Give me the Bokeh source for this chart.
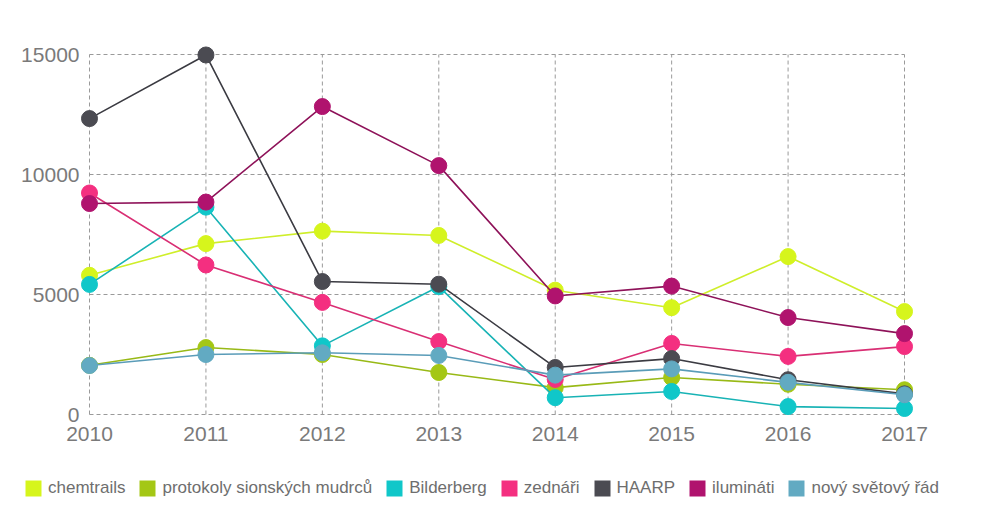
from bokeh.plotting import figure
from bokeh.models import Legend, LegendItem, Range1d
from bokeh.core.properties import value
from bokeh.embed import file_html
from bokeh.resources import INLINE

years = [2010, 2011, 2012, 2013, 2014, 2015, 2016, 2017]
year_labels = ["2010", "2011", "2012", "2013", "2014", "2015", "2016", "2017"]
y_ticks = [0, 5000, 10000, 15000]
y_labels = ["0", "5000", "10000", "15000"]
names = ["chemtrails", "protokoly sionských mudrců", "Bilderberg", "zednáři",
         "HAARP", "ilumináti", "nový světový řád"]
chemtrails = [5800, 7120, 7640, 7460, 5180, 4450, 6580, 4290]
protokoly = [2050, 2790, 2500, 1750, 1120, 1540, 1260, 1030]
bilderberg = [5420, 8640, 2860, 5330, 700, 960, 330, 250]
zednari = [9230, 6230, 4670, 3040, 1460, 2960, 2420, 2830]
haarp = [12330, 14980, 5540, 5430, 1960, 2330, 1450, 860]
iluminati = [8790, 8850, 12830, 10370, 4940, 5350, 4040, 3370]
nwo = [2040, 2500, 2570, 2460, 1640, 1900, 1340, 820]
series = [chemtrails, protokoly, bilderberg, zednari, haarp, iluminati, nwo]
fill_colors = ["#d6f51c", "#a4c715", "#10c7c9", "#f42f80", "#4b4b52", "#b0136e", "#62aac2"]
line_colors = ["#cfee2a", "#98b916", "#18b3b5", "#d92f74", "#3b3b42", "#8e1259", "#5a9cb8"]

FW, FH = 970, 520
px_per_year = 116.43
px_per_unit = 0.024
x0 = years[0] - 89 / px_per_year
y1 = y_ticks[-1] + 54 / px_per_unit
p = figure(frame_width=FW, frame_height=FH, min_border=0,
           x_range=Range1d(x0, x0 + FW / px_per_year),
           y_range=Range1d(y1 - FH / px_per_unit, y1),
           x_axis_location=None, y_axis_location=None,
           output_backend="svg", toolbar_location=None)
p.outline_line_color = None
p.background_fill_color = "white"
p.border_fill_color = "white"
for g in p.grid:
    g.visible = False

grid_color = "#9a9a9a"
# vertical grid lines at each year, spanning the value ticks
p.segment(x0=years, x1=years, y0=[y_ticks[0]] * len(years), y1=[y_ticks[-1]] * len(years),
          line_color=grid_color, line_dash="4 3", line_width=1)
# horizontal grid lines at each value tick, spanning the years
p.segment(x0=[years[0]] * len(y_ticks), x1=[years[-1]] * len(y_ticks), y0=y_ticks, y1=y_ticks,
          line_color=grid_color, line_dash="4 3", line_width=1)

# tick labels
p.text(x=[years[0]] * len(y_ticks), y=y_ticks, text=y_labels, text_align="right",
       text_baseline="middle", x_offset=-10, text_font=value("Liberation Sans"),
       text_font_size=value("21px"), text_color="#7a7a7a")
p.text(x=years, y=[y_ticks[0]] * len(years), text=year_labels, text_align="center",
       text_baseline="top", y_offset=12, text_font=value("Liberation Sans"),
       text_font_size=value("21px"), text_color="#7a7a7a")

items = []
for name, vals, fc, lc in zip(names, series, fill_colors, line_colors):
    p.line(years, vals, line_color=lc, line_width=1.6)
    p.scatter(years, vals, size=16, fill_color=fc, line_color=fc, marker="circle")
    # zero-size swatch renderer, only used for the square legend glyph
    sw = p.quad(left=[years[0]], right=[years[0]], top=[y_ticks[0]], bottom=[y_ticks[0]],
                fill_color=fc, line_color=None)
    items.append(LegendItem(label=name, renderers=[sw]))

legend = Legend(items=items, location=(23, 22), orientation="horizontal", nrows=1,
                glyph_width=20, glyph_height=20, label_standoff=5, spacing=12,
                padding=0, margin=0, border_line_color=None,
                background_fill_alpha=0, label_text_font="Liberation Sans",
                label_text_font_size="17px", label_text_color="#6e6e6e",
                label_height=20)
p.add_layout(legend, "center")

open("out.html", "w").write(file_html(p, INLINE))
